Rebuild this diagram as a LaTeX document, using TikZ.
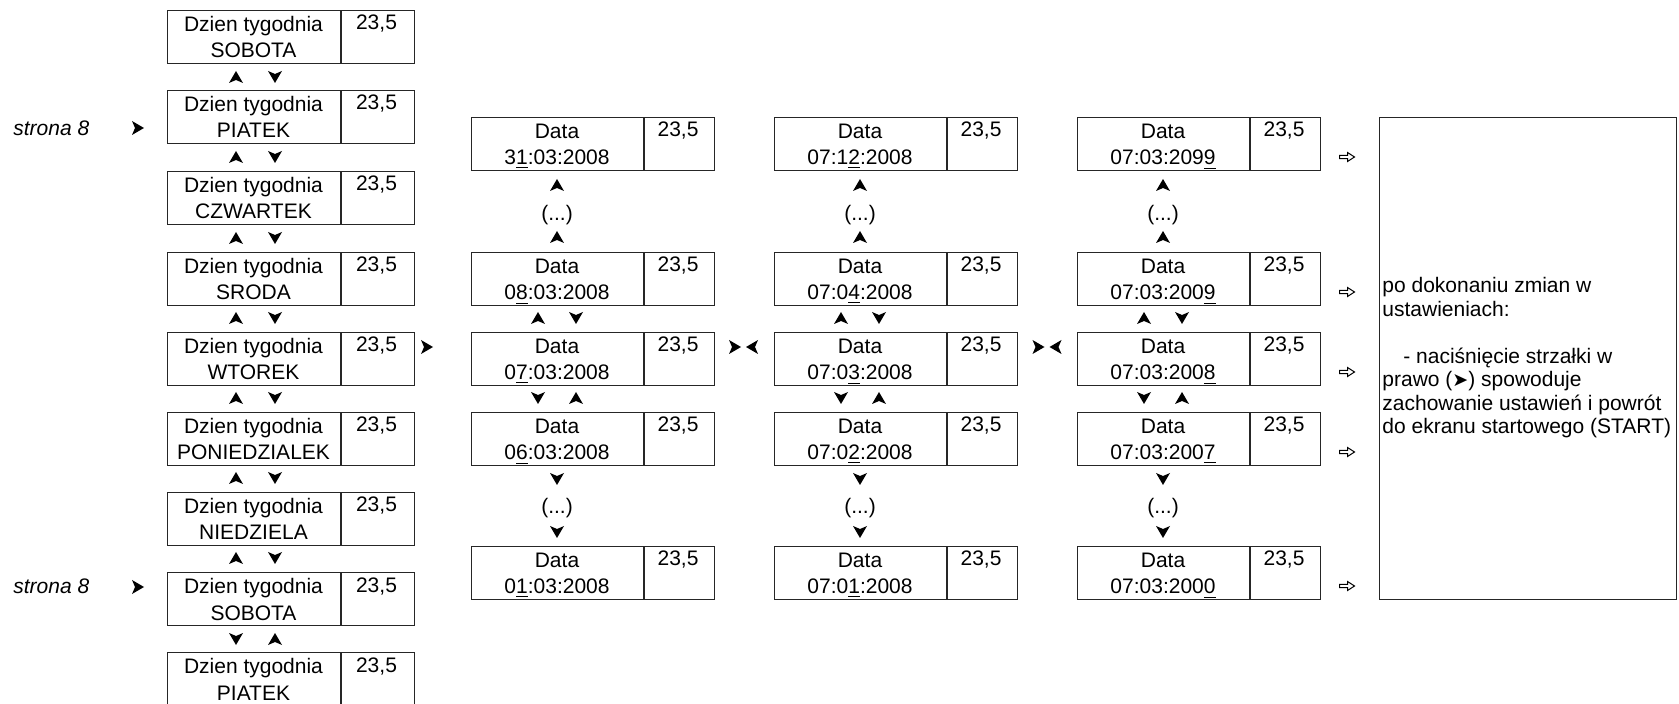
\documentclass[tikz,border=0pt]{standalone}
\usepackage{fontspec}
\setmainfont{Liberation Sans}
\newfontfamily\symfont{DejaVu Sans}
\usetikzlibrary{calc}
\tikzset{
  cell/.style={draw=black!85, line width=0.6pt, inner sep=0pt, minimum height=26.5pt},
  txt/.style={inner sep=0pt, font=\fontsize{10.5}{12}\selectfont},
  ahead/.pic={\fill[black] (6,0) -- (-6,7) -- (-3,0) -- (-6,-7) -- cycle;},
  hollowarrow/.pic={\draw[black, line width=0.5pt, line join=miter] (-7.5,-1.6) -- (0.5,-1.6) -- (0.5,-4.5) -- (7.5,0) -- (0.5,4.5) -- (0.5,1.6) -- (-7.5,1.6) -- cycle;},
}
\newcommand\ArrUp[2]{\pic[rotate=90] at (#1,#2) {ahead};}
\newcommand\ArrDown[2]{\pic[rotate=-90] at (#1,#2) {ahead};}
\newcommand\ArrRight[2]{\pic at (#1,#2) {ahead};}
\newcommand\ArrLeft[2]{\pic[rotate=180] at (#1,#2) {ahead};}
\newcommand\Hollow[2]{\pic at (#1,#2) {hollowarrow};}
% #1 name, #2 x, #3 top, #4 wL, #5 wR, #6 line1, #7 line2
\newcommand\screen[7]{%
  \node[cell, minimum width={#4*0.5pt}, anchor=north west] (#1) at (#2,#3) {};
  \node[cell, minimum width={#5*0.5pt}, anchor=north west] (#1v) at (#1.north east) {};
  \node[txt, anchor=base] (#1t) at ({#2+#4/2},{#3+21.5}) {#6};
  \node[txt, anchor=base] (#1d) at ({#2+#4/2},{#3+48}) {#7};
  \node[txt, anchor=base] (#1n) at ({#2+#4+#5/2},{#3+20}) {23,5};
}
\begin{document}
\begin{tikzpicture}[x=0.5pt, y=-0.5pt]
\useasboundingbox (0,0) rectangle (1679,704);
\begin{scope}
\clip (0,0) rectangle (1679,704);
% left column
\screen{d0}{167}{10}{173}{73}{Dzien tygodnia}{SOBOTA}
\screen{d1}{167}{90}{173}{73}{Dzien tygodnia}{PIATEK}
\screen{d2}{167}{171}{173}{73}{Dzien tygodnia}{CZWARTEK}
\screen{d3}{167}{252}{173}{73}{Dzien tygodnia}{SRODA}
\screen{d4}{167}{332}{173}{73}{Dzien tygodnia}{WTOREK}
\screen{d5}{167}{412}{173}{73}{Dzien tygodnia}{PONIEDZIALEK}
\screen{d6}{167}{492}{173}{73}{Dzien tygodnia}{NIEDZIELA}
\screen{d7}{167}{572}{173}{73}{Dzien tygodnia}{SOBOTA}
\screen{d8}{167}{652}{173}{73}{Dzien tygodnia}{PIATEK}
\end{scope}
\foreach \y in {77,157,238,318,398,478,558}{\ArrUp{236}{\y}\ArrDown{275}{\y}}
\ArrDown{236}{639}\ArrUp{275}{639}
% strona 8
\node[txt, anchor=base west] (s1) at (13,136) {\itshape strona 8};
\node[txt, anchor=base west] (s2) at (13,594) {\itshape strona 8};
\ArrRight{138}{128}
\ArrRight{138}{587}
\ArrRight{427}{347}
% date column 1
\screen{a1}{471}{117}{172}{70}{Data}{3\underline{1}:03:2008}
\screen{b1}{471}{252}{172}{70}{Data}{0\underline{8}:03:2008}
\screen{c1}{471}{332}{172}{70}{Data}{0\underline{7}:03:2008}
\screen{e1}{471}{412}{172}{70}{Data}{0\underline{6}:03:2008}
\screen{f1}{471}{546}{172}{70}{Data}{0\underline{1}:03:2008}
% date column 2
\screen{a2}{774}{117}{172}{70}{Data}{07:1\underline{2}:2008}
\screen{b2}{774}{252}{172}{70}{Data}{07:0\underline{4}:2008}
\screen{c2}{774}{332}{172}{70}{Data}{07:0\underline{3}:2008}
\screen{e2}{774}{412}{172}{70}{Data}{07:0\underline{2}:2008}
\screen{f2}{774}{546}{172}{70}{Data}{07:0\underline{1}:2008}
% date column 3
\screen{a3}{1077}{117}{172}{70}{Data}{07:03:209\underline{9}}
\screen{b3}{1077}{252}{172}{70}{Data}{07:03:200\underline{9}}
\screen{c3}{1077}{332}{172}{70}{Data}{07:03:200\underline{8}}
\screen{e3}{1077}{412}{172}{70}{Data}{07:03:200\underline{7}}
\screen{f3}{1077}{546}{172}{70}{Data}{07:03:200\underline{0}}
\foreach \c [count=\i] in {557,860,1163}{
  \ArrUp{\c}{185}
  \node[txt] (up\i) at (\c,215) {(...)};
  \ArrUp{\c}{237}
  \ArrUp{\c-19}{318}\ArrDown{\c+19}{318}
  \ArrDown{\c-19}{398}\ArrUp{\c+19}{398}
  \ArrDown{\c}{479}
  \node[txt] (dn\i) at (\c,508) {(...)};
  \ArrDown{\c}{532}
}
\ArrRight{735}{347}\ArrLeft{752}{347}
\ArrRight{1038.5}{347}\ArrLeft{1055.5}{347}
% hollow arrows
\foreach \y in {157,292,372,452,586}{\Hollow{1347}{\y}}
% info box
\node[cell, minimum width=148.5pt, minimum height=241pt, anchor=north west] (info) at (1379,117) {};
\node[txt, align=left, anchor=west, font=\fontsize{10.5}{11.75}\selectfont] (infot) at (1382,358)
  {po dokonaniu zmian w\\ustawieniach:\\[11.75pt]\hspace*{10.5pt}- naciśnięcie strzałki w\\prawo ({\symfont\fontsize{9.5}{8}\selectfont ➤}) spowoduje\\zachowanie ustawień i powrót\\do ekranu startowego (START)};
\end{tikzpicture}
\end{document}
